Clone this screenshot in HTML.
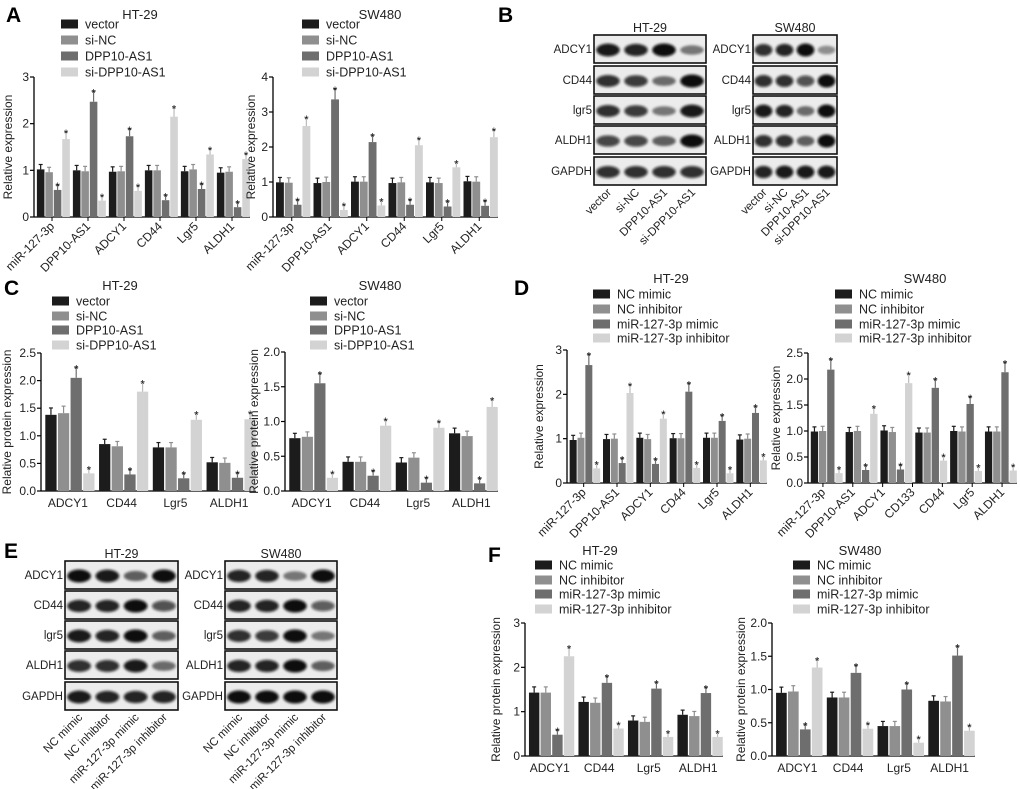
<!DOCTYPE html>
<html><head><meta charset="utf-8"><style>
html,body{margin:0;padding:0;background:#fff;}
svg{display:block;font-family:"Liberation Sans",Arial,sans-serif;}
</style></head><body>
<svg id="fig" width="1020" height="789" viewBox="0 0 1020 789" xmlns="http://www.w3.org/2000/svg">
<defs><filter id="blur" x="-20%" y="-50%" width="140%" height="200%"><feGaussianBlur stdDeviation="1.3"/></filter></defs>
<g id="root"></g>
</svg>
<script>
// ---- data ----
const seriesA = ["vector","si-NC","DPP10-AS1","si-DPP10-AS1"];
const seriesD = ["NC mimic","NC inhibitor","miR-127-3p mimic","miR-127-3p inhibitor"];
const catsA = ["miR-127-3p","DPP10-AS1","ADCY1","CD44","Lgr5","ALDH1"];
const catsP = ["ADCY1","CD44","Lgr5","ALDH1"];
const catsD2 = ["miR-127-3p","DPP10-AS1","ADCY1","CD133","CD44","Lgr5","ALDH1"];
const valsA1 = [[1.02,0.96,0.58,1.67],[1.0,0.98,2.47,0.35],[0.97,0.98,1.73,0.56],[1.0,1.0,0.36,2.15],[0.98,1.02,0.60,1.34],[0.95,0.97,0.21,1.24]];
const valsA2 = [[0.99,0.98,0.35,2.6],[0.97,1.0,3.36,0.2],[1.01,1.01,2.14,0.33],[0.97,0.99,0.35,2.05],[0.99,0.97,0.3,1.42],[1.02,1.01,0.32,2.28]];
const valsC1 = [[1.38,1.41,2.05,0.32],[0.85,0.81,0.30,1.80],[0.79,0.79,0.23,1.29],[0.52,0.51,0.24,1.30]];
const valsC2 = [[0.76,0.78,1.55,0.19],[0.42,0.42,0.22,0.94],[0.41,0.48,0.12,0.91],[0.83,0.79,0.11,1.21]];
const valsD1 = [[0.97,1.02,2.66,0.33],[0.99,1.0,0.45,2.03],[1.02,0.99,0.43,1.45],[1.01,1.01,2.06,0.34],[1.02,1.02,1.4,0.22],[0.98,1.0,1.58,0.51]];
const valsD2 = [[0.99,1.0,2.18,0.19],[0.98,1.0,0.25,1.33],[1.01,0.98,0.26,1.92],[0.97,0.97,1.83,0.43],[1.0,0.99,1.52,0.23],[0.99,0.99,2.13,0.24]];
const valsF1 = [[1.43,1.43,0.48,2.25],[1.22,1.2,1.65,0.62],[0.8,0.77,1.52,0.43],[0.93,0.9,1.42,0.43]];
const valsF2 = [[0.95,0.97,0.4,1.33],[0.88,0.88,1.25,0.41],[0.45,0.45,1.0,0.2],[0.83,0.82,1.51,0.38]];
const ticks3 = ["0","1","2","3"];
const ticks4 = ["0","1","2","3","4"];
const ticks25 = ["0.0","0.5","1.0","1.5","2.0","2.5"];
const ticks20 = ["0.0","0.5","1.0","1.5","2.0"];
const blotRows = ["ADCY1","CD44","lgr5","ALDH1","GAPDH"];
const bandB1 = [[0.95,0.9,1,0.5],[0.85,0.8,0.55,1],[0.85,0.8,0.5,0.95],[0.75,0.75,0.6,1],[0.85,0.85,0.85,0.85]];
const bandB2 = [[0.85,0.9,1,0.4],[0.85,0.85,0.7,1],[0.95,0.9,0.55,1],[0.85,0.85,0.6,1],[0.9,0.95,0.95,0.95]];
const bandE1 = [[1,0.95,0.6,1],[0.9,0.9,1,0.7],[0.95,0.9,1,0.6],[0.85,0.85,0.95,0.55],[0.95,0.9,0.9,0.9]];
const bandE2 = [[0.9,0.9,0.5,1],[0.9,0.9,1,0.65],[0.85,0.8,1,0.5],[0.9,0.9,1,0.6],[1,1,1,1]];
const colors = ["#1c1c1c","#8f8f8f","#6e6e6e","#d3d3d3"];

const NS="http://www.w3.org/2000/svg";
const root=document.getElementById('root');
function mk(tag,attrs,parent,text){const e=document.createElementNS(NS,tag);for(const k in attrs)e.setAttribute(k,attrs[k]);if(text!==undefined)e.textContent=text;(parent||root).appendChild(e);return e;}

function chart(c){
  const g=mk('g',{});
  
  
  const max=+c.ticks[c.ticks.length-1];
  const y=v=>c.yB-(v/max)*(c.yB-c.yT);
  const n=c.vals.length;
  const G=(c.x1-c.x0)/n;
  const ax=mk('line',{x1:c.x0,y1:c.yT,x2:c.x0,y2:c.yB,stroke:'#000','stroke-width':1.3},g);
  
  const xa=mk('line',{x1:c.x0,y1:c.yB,x2:c.x1,y2:c.yB,stroke:'#000','stroke-width':1.3},g);
  
  c.ticks.forEach(t=>{const ty=y(+t);
    mk('line',{x1:c.x0-4,y1:ty,x2:c.x0,y2:ty,stroke:'#000','stroke-width':1.2},g);
    const tl=mk('text',{x:c.x0-5,y:ty+4,'font-size':12,'text-anchor':'end',fill:'#222'},g,t);
    
  });
  const bw=G*0.21,pitch=G*0.235,off=G*0.08;
  c.vals.forEach((grp,gi)=>{grp.forEach((v,si)=>{
    const bx=c.x0+gi*G+off+si*pitch;
    const r=mk('rect',{x:bx,y:y(v),width:bw,height:c.yB-y(v),fill:colors[si]},g);
    
    
    const e=Math.max(0.035*max,v*0.09);
    const cx=bx+bw/2;
    const ec=colors[si]==="#d3d3d3"?'#bbb':colors[si];
    mk('line',{x1:cx,y1:y(v),x2:cx,y2:y(v+e),stroke:ec,'stroke-width':1.2},g);
    mk('line',{x1:cx-2,y1:y(v+e),x2:cx+2,y2:y(v+e),stroke:ec,'stroke-width':1.2},g);
    if(si>=2){const st=mk('text',{x:cx,y:y(v+e)+5,'font-size':11,'text-anchor':'middle',fill:'#111'},g,'*');
      }
  });});
  const nl=c.cats.length, LG=(c.x1-c.x0)/nl;
  c.cats.forEach((cat,i)=>{const cx=c.x0+(i+0.5)*LG;
    let t;
    if(c.rot){mk('line',{x1:cx,y1:c.yB,x2:cx,y2:c.yB+4,stroke:'#000'},g);
      t=mk('text',{x:cx+3,y:c.yB+10,'font-size':12,'text-anchor':'end',fill:'#222',transform:`rotate(-45 ${cx+3} ${c.yB+10})`},g,cat);}
    else t=mk('text',{x:cx,y:c.yB+16,'font-size':12,'text-anchor':'middle',fill:'#222'},g,cat);
    
  });
  const yl=mk('text',{x:c.ylx,y:(c.yT+c.yB)/2,'font-size':12,'text-anchor':'middle',fill:'#222',transform:`rotate(-90 ${c.ylx} ${(c.yT+c.yB)/2})`},g,c.ylab);
  
  const ti=mk('text',{x:c.tx,y:c.ty,'font-size':13,'text-anchor':'middle',fill:'#222'},g,c.title);
  
  c.series.forEach((s,i)=>{const ly=c.ly[i];
    const sq=mk('rect',{x:c.lx,y:ly-4.5,width:17,height:9,fill:colors[i]},g);
    
    const lt=mk('text',{x:c.lx+24,y:ly+4.5,'font-size':12.5,fill:'#222'},g,s);
    
  });
}

const L1=[24,40,56,72];
chart({name:'chart-a-ht29',x0:34,x1:250,yT:77,yB:217,ticks:ticks3,vals:valsA1,cats:catsA,rot:true,ylab:'Relative expression',ylx:12,title:'HT-29',tx:140,ty:19,series:seriesA,lx:61,ly:L1});
chart({name:'chart-a-sw480',x0:273,x1:498,yT:77,yB:217,ticks:ticks4,vals:valsA2,cats:catsA,rot:true,ylab:'Relative expression',ylx:255,title:'SW480',tx:380,ty:19,series:seriesA,lx:302,ly:L1});
const L3=[301,316,330,345];
chart({name:'chart-c-ht29',x0:41,x1:256,yT:353,yB:491,ticks:ticks25,vals:valsC1,cats:catsP,rot:false,ylab:'Relative protein expression',ylx:11,title:'HT-29',tx:120,ty:290,series:seriesA,lx:52,ly:L3});
chart({name:'chart-c-sw480',x0:285,x1:498,yT:352,yB:491,ticks:ticks20,vals:valsC2,cats:catsP,rot:false,ylab:'Relative protein expression',ylx:258,title:'SW480',tx:380,ty:290,series:seriesA,lx:310,ly:L3});
const L4=[294,309,324,338];
chart({name:'chart-d-ht29',x0:567,x1:767,yT:350,yB:483,ticks:ticks3,vals:valsD1,cats:catsA,rot:true,ylab:'Relative expression',ylx:543,title:'HT-29',tx:671,ty:283,series:seriesD,lx:593,ly:L4});
chart({name:'chart-d-sw480',x0:808,x1:1017,yT:353,yB:483,ticks:ticks25,vals:valsD2,cats:catsD2,rot:true,ylab:'Relative expression',ylx:780,title:'SW480',tx:925,ty:283,series:seriesD,lx:835,ly:L4});
const L6=[565,580,594,609];
chart({name:'chart-f-ht29',x0:525,x1:723,yT:623,yB:756,ticks:ticks3,vals:valsF1,cats:catsP,rot:false,ylab:'Relative protein expression',ylx:500,title:'HT-29',tx:600,ty:555,series:seriesD,lx:535,ly:L6});
chart({name:'chart-f-sw480',x0:772,x1:975,yT:623,yB:756,ticks:ticks20,vals:valsF2,cats:catsP,rot:false,ylab:'Relative protein expression',ylx:745,title:'SW480',tx:860,ty:555,series:seriesD,lx:793,ly:L6});

function blot(name,x0,x1,tops,h,bands,cols,title){
  const g=mk('g',{});
  
  
  const w=x1-x0, cw=w/4;
  const tt=mk('text',{x:(x0+x1)/2,y:tops[0]-3,'font-size':12.5,'text-anchor':'middle',fill:'#222'},g,title);
  
  tops.forEach((t,r)=>{
    mk('rect',{x:x0,y:t,width:w,height:h,fill:'#ececec',stroke:'#111','stroke-width':1.6},g);
    bands[r].forEach((b,i)=>{
      const band=mk('ellipse',{cx:x0+(i+0.5)*cw,cy:t+h/2+1,rx:cw*0.42,ry:3+b*3.5,fill:'#0a0a0a','fill-opacity':b,filter:'url(#blur)'},g);
      
    });
    const lb=mk('text',{x:x0-2,y:t+h/2+4,'font-size':11.5,'text-anchor':'end',fill:'#222'},g,blotRows[r]);
    
  });
  const yb=tops[tops.length-1]+h+8;
  cols.forEach((c,i)=>{const cx=x0+(i+0.5)*cw+4;
    const t=mk('text',{x:cx,y:yb,'font-size':11.5,'text-anchor':'end',fill:'#222',transform:`rotate(-45 ${cx} ${yb})`},g,c);
    
  });
}
blot('blot-b-ht29',594,706,[35,66,96,126,157],28,bandB1,seriesA,'HT-29');
blot('blot-b-sw480',753,837,[35,66,96,126,157],28,bandB2,seriesA,'SW480');
blot('blot-e-ht29',65,178,[561,591,621,651,682],28,bandE1,seriesD,'HT-29');
blot('blot-e-sw480',225,337,[561,591,621,651,682],28,bandE2,seriesD,'SW480');

[['A',6,22],['B',498,22],['C',4,295],['D',514,295],['E',4,558],['F',488,562]].forEach(p=>{
  const t=mk('text',{x:p[1],y:p[2],'font-size':21,'font-weight':'bold',fill:'#000'},root,p[0]);
  
  
});
</script>
</body></html>
